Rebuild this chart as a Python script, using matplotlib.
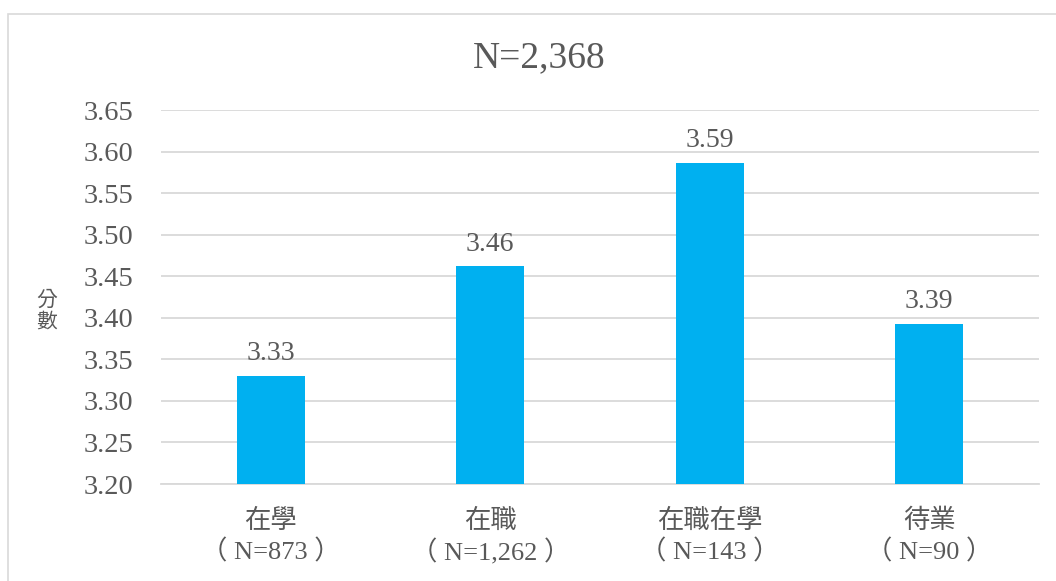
import matplotlib
matplotlib.use("Agg")
import matplotlib.pyplot as plt
from matplotlib.patches import Rectangle

categories = ["在學\n（ N=873 ）", "在職\n（ N=1,262 ）", "在職在學\n（ N=143 ）", "待業\n（ N=90 ）"]
values = [3.33, 3.462, 3.586, 3.393]
labels = ["3.33", "3.46", "3.59", "3.39"]
title = "N=2,368"
ylabel = "分\n數"

FAM = ["Liberation Serif", "Noto Sans CJK TC"]
plt.rcParams["font.family"] = FAM
gray = "#595959"

fig = plt.figure(figsize=(10.56, 5.81), dpi=100)
W, H = 1056, 581
ax = fig.add_axes([161 / W, 1 - 484 / H, (1039 - 161) / W, (484 - 110) / H])

x = range(len(categories))
ax.bar(x, values, width=0.31, color="#00B0F0", zorder=3, bottom=0)
ax.set_ylim(3.20, 3.65)
ax.set_xlim(-0.5, len(categories) - 0.5)
ticks = [3.20 + 0.05 * i for i in range(10)]
ax.set_yticks(ticks)
ax.set_yticklabels([f"{t:.2f}" for t in ticks], fontsize=20.5, color=gray)
ax.set_xticks(list(x))
ax.set_xticklabels(categories, fontsize=19, color=gray, linespacing=1.3)
ax.tick_params(axis="y", length=0, pad=20)
ax.tick_params(axis="x", length=0, pad=18)
ax.grid(axis="y", color="#D9D9D9", linewidth=1.3, zorder=0)
for s in ["left", "right", "top"]:
    ax.spines[s].set_visible(False)
ax.spines["bottom"].set_color("#D9D9D9")
ax.spines["bottom"].set_linewidth(1.3)

for xi, v, l in zip(x, values, labels):
    ax.annotate(l, (xi, v), xytext=(0, 7), textcoords="offset points",
                ha="center", va="bottom", fontsize=20, color=gray)

fig.text(539 / W, 1 - 58 / H, title, ha="center", va="center", fontsize=27, color=gray)
fig.text(47 / W, 1 - 312 / H, ylabel, ha="center", va="center", fontsize=15,
         color=gray, linespacing=1.25)

fig.patches.append(Rectangle((8 / W, -0.1), 1.2, 1 - 14 / H + 0.1, transform=fig.transFigure,
                             fill=False, edgecolor="#D9D9D9", linewidth=1.2))

fig.savefig("out.png", dpi=100)
